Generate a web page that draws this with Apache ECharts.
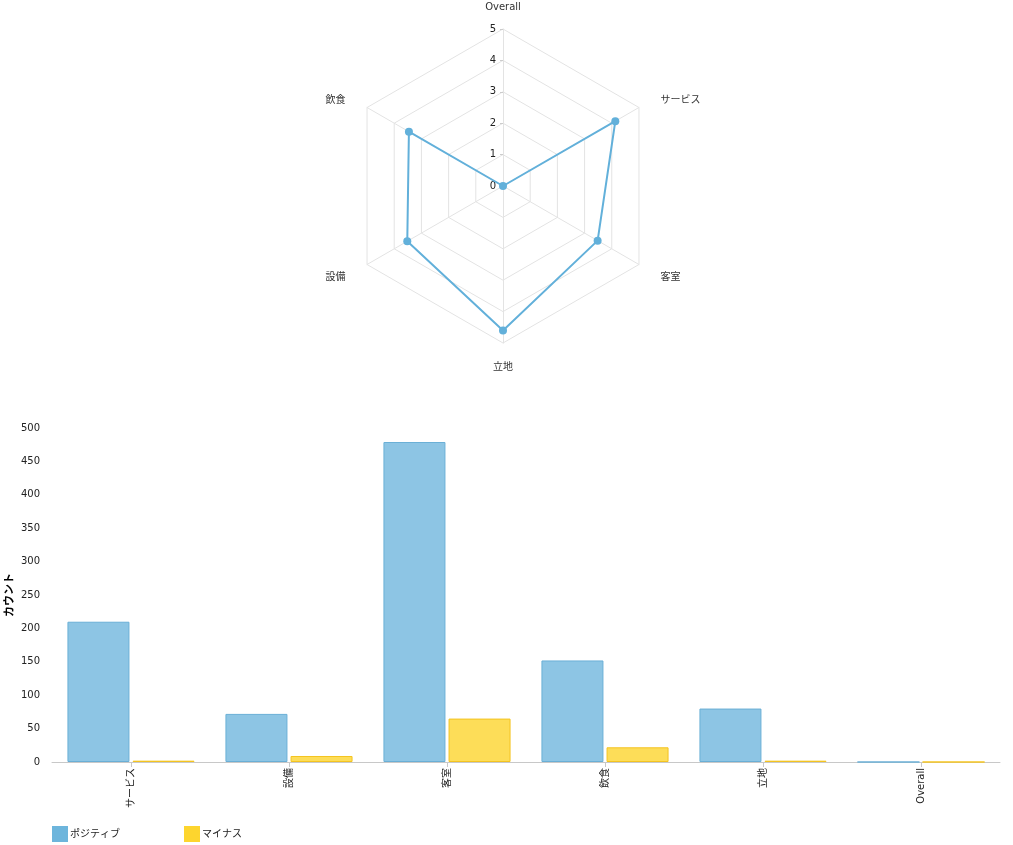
<!DOCTYPE html>
<html><head><meta charset="utf-8">
<script src="https://cdn.jsdelivr.net/npm/echarts@6/dist/echarts.min.js"></script>
<style>html,body{margin:0;padding:0;background:#fff}#c{width:1013px;height:845px}</style>
</head><body><div id="c"></div>
<script>
const radarAxes = ['Overall', '飲食', '設備', '立地', '客室', 'サービス'];
const radarValues = [0, 3.46, 3.52, 4.6, 3.48, 4.13];
const radarMax = 5;
const categories = ['サービス', '設備', '客室', '飲食', '立地', 'Overall'];
const positive = [210, 72, 479, 152, 80, 0];
const negative = [2, 9, 65, 22, 2, 0];
const seriesNames = ['ポジティブ', 'マイナス'];
const yAxisTitle = 'カウント';

const FONT = '"DejaVu Sans", "Noto Sans CJK JP", sans-serif';
const nameGaps = [17, 25, 25, 19, 25, 25];
const upperSide = ['飲食', 'サービス'];
const chart = echarts.init(document.getElementById('c'), null, {renderer: 'canvas'});
chart.setOption({
  animation: false,
  textStyle: {fontFamily: FONT},
  radar: {
    center: [503, 186],
    radius: 157,
    startAngle: 90,
    splitNumber: 5,
    shape: 'polygon',
    indicator: radarAxes.map((n, i) => i === 0
      ? {name: n, max: radarMax, min: 0, nameGap: nameGaps[i], axisLabel: {show: true}, axisTick: {show: true}}
      : {name: n, max: radarMax, min: 0, nameGap: nameGaps[i]}),
    axisName: {
      color: '#333', fontSize: 10, fontFamily: FONT,
      formatter: (name) => upperSide.indexOf(name) >= 0 ? '{dn|' + name + '}' : '{n|' + name + '}',
      rich: {
        n: {color: '#333', fontSize: 10, fontFamily: FONT},
        dn: {color: '#333', fontSize: 10, fontFamily: FONT, padding: [10, 0, 0, 0]}
      }
    },
    nameGap: 20,
    axisLabel: {show: false, color: '#222', fontSize: 10, margin: 7, fontFamily: FONT},
    axisTick: {show: false, length: 3, lineStyle: {color: '#ccc'}},
    axisLine: {lineStyle: {color: '#e3e3e3'}},
    splitLine: {lineStyle: {color: '#e3e3e3'}},
    splitArea: {show: false}
  },
  grid: {left: 52, right: 13, top: 428, bottom: 83, containLabel: false, outerBoundsMode: 'none'},
  xAxis: {
    type: 'category', data: categories,
    axisLine: {lineStyle: {color: '#c8c8c8'}},
    axisTick: {show: true, alignWithLabel: true, length: 5, lineStyle: {color: '#c8c8c8'}},
    axisLabel: {rotate: 90, color: '#222', fontSize: 10, margin: 6, fontFamily: FONT, interval: 0}
  },
  yAxis: {
    type: 'value', min: 0, max: 500, interval: 50,
    name: yAxisTitle, nameLocation: 'middle', nameGap: 36, nameRotate: 90, nameMoveOverlap: false,
    nameTextStyle: {fontWeight: 'bold', fontSize: 11, color: '#000', fontFamily: FONT},
    axisLine: {show: false}, axisTick: {show: false}, splitLine: {show: false},
    axisLabel: {color: '#222', fontSize: 10, margin: 12, fontFamily: FONT}
  },
  legend: {
    left: 52, top: 826, padding: 0, itemWidth: 16, itemHeight: 16, itemGap: 64, icon: 'rect',
    textStyle: {fontSize: 10, color: '#222', fontFamily: FONT, padding: [0, 0, 0, -3]},
    data: [
      {name: seriesNames[0], itemStyle: {color: '#6db5dc', borderWidth: 0}},
      {name: seriesNames[1], itemStyle: {color: '#fdd52e', borderWidth: 0}}
    ]
  },
  series: [
    {
      type: 'radar',
      symbol: 'circle', symbolSize: 8,
      lineStyle: {color: '#62b0da', width: 2},
      itemStyle: {color: '#62b0da'},
      data: [{value: radarValues}]
    },
    {
      name: seriesNames[0], type: 'bar', data: positive, barWidth: 62, barGap: '5%',
      itemStyle: {color: 'rgba(109,181,220,0.78)', borderColor: '#6aafd6', borderWidth: 1}
    },
    {
      name: seriesNames[1], type: 'bar', data: negative, barWidth: 62,
      itemStyle: {color: 'rgba(253,213,46,0.8)', borderColor: '#f4c420', borderWidth: 1}
    }
  ]
});
</script></body></html>
